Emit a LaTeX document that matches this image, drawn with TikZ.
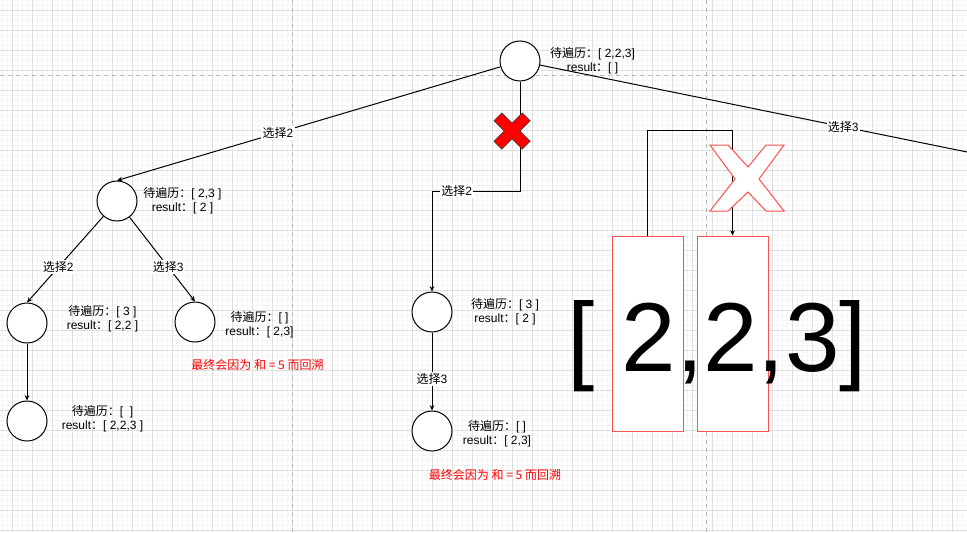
\documentclass[tikz,border=0pt]{standalone}
\usepackage{fontspec}
\setmainfont{Liberation Sans}
\newfontfamily\cjk{Noto Sans CJK SC}
\usetikzlibrary{arrows.meta}
\definecolor{gridminor}{RGB}{245,245,245}
\definecolor{gridmajor}{RGB}{222,222,222}
\definecolor{pagebreak}{RGB}{185,185,185}
\definecolor{slotred}{RGB}{255,80,80}
\tikzset{
  state/.style={circle,draw=black,fill=white,line width=0.75pt,minimum size=30pt,inner sep=0pt},
  info/.style={align=center,font=\fontsize{9}{10.5}\selectfont,inner sep=0pt},
  choice/.style={fill=white,inner sep=1pt,font=\fontsize{9}{10.5}\selectfont},
  note/.style={text=red,inner sep=0pt,font=\fontsize{9}{10.5}\selectfont\cjk},
  edge/.style={-{Stealth[length=4pt,width=3.5pt]},line width=0.75pt},
  plain/.style={line width=0.75pt},
  slot/.style={draw=slotred,fill=white,line width=0.75pt,minimum width=53.25pt,minimum height=146.25pt,inner sep=0pt}
}
\newcommand{\pending}{{\cjk 待遍历：}}
\newcommand{\res}{result{\cjk ：}}
\newcommand{\pick}[1]{{\cjk 选择}#1}

\begin{document}
\begin{tikzpicture}[x=0.75pt,y=-0.75pt]
  \useasboundingbox (0,0) rectangle (967,532);
  % grid
  \fill[white] (0,0) rectangle (967,532);
  \foreach \x in {2,7,...,967} \draw[gridminor,line width=0.4pt] (\x,0) -- (\x,532);
  \foreach \y in {0,5,...,532} \draw[gridminor,line width=0.4pt] (0,\y) -- (967,\y);
  \foreach \x in {12,32,...,967} \draw[gridmajor,line width=0.5pt] (\x,0) -- (\x,532);
  \foreach \y in {10,30,...,532} \draw[gridmajor,line width=0.5pt] (0,\y) -- (967,\y);
  \draw[pagebreak,dashed,line width=0.5pt] (292,0) -- (292,532) (706,0) -- (706,532) (0,75) -- (967,75);

  % tree
  \node[state] (root) at (520,61) {};
  \node[state] (A) at (117,201) {};
  \node[state] (B) at (27,323) {};
  \node[state] (C) at (195,322) {};
  \node[state] (D) at (27,421) {};
  \node[state] (E) at (432,312) {};
  \node[state] (F) at (432,431) {};
  \coordinate (off) at (967,152);
  \coordinate (bend) at (520,191);

  \node[info] (rootinfo) at (592.5,61) {\pending[ 2,2,3]\\\res[ ]};
  \node[info] (Ainfo) at (182.5,201) {\pending[ 2,3 ]\\\res[ 2 ]};
  \node[info] (Binfo) at (102.5,319) {\pending[ 3 ]\\\res[ 2,2 ]};
  \node[info] (Cinfo) at (259.5,325) {\pending[ ]\\\res[ 2,3]};
  \node[info] (Dinfo) at (102.5,419) {\pending[ \ ]\\\res[ 2,2,3 ]};
  \node[info] (Einfo) at (505,312) {\pending[ 3 ]\\\res[ 2 ]};
  \node[info] (Finfo) at (497,434) {\pending[ ]\\\res[ 2,3]};
  \node[note] (noteC) at (257.5,365) {最终会因为 和 = 5 而回溯};
  \node[note] (noteF) at (495,475) {最终会因为 和 = 5 而回溯};

  \draw[edge] (root) -- node[choice,pos=0.58]{\pick2} (A.north);
  \draw[plain] (root) -- node[choice,pos=0.71]{\pick3} (off);
  \draw[edge] (root) -- (bend) -| node[choice,pos=0.36]{\pick2} (E.north);
  \draw[edge] (A) -- node[choice,pos=0.59]{\pick2} (B.north);
  \draw[edge] (A) -- node[choice,pos=0.59]{\pick3} (C.north);
  \draw[edge] (B) -- (D);
  \draw[edge] (E) -- node[choice,pos=0.6]{\pick3} (F);

  % cut mark on the second branch
  \begin{scope}[shift={(512,131)},rotate=45]
    \draw[black!75,fill=red,line width=0.5pt]
      (-5.5,-20) -- (5.5,-20) -- (5.5,-5.5) -- (20,-5.5) -- (20,5.5) -- (5.5,5.5)
      -- (5.5,20) -- (-5.5,20) -- (-5.5,5.5) -- (-20,5.5) -- (-20,-5.5) -- (-5.5,-5.5) -- cycle;
  \end{scope}

  % array
  \node[slot] (slotA) at (647.5,333.5) {};
  \node[slot] (slotB) at (732.5,333.5) {};
  \draw[edge] (slotA.north) -- ++(0,-105) -| (slotB.north);
  \draw[slotred,fill=white,line width=0.75pt]
    (710,145) -- (728,145) -- (748,167) -- (766,145) -- (784,145) -- (759,179)
    -- (784,211) -- (766,211) -- (748,192) -- (728,211) -- (710,211) -- (735,179) -- cycle;
  \node[anchor=base,inner sep=0pt,font=\fontsize{73.5}{80}\selectfont] (arr) at (717,371) {[ 2,2,3]};
\end{tikzpicture}
\end{document}
